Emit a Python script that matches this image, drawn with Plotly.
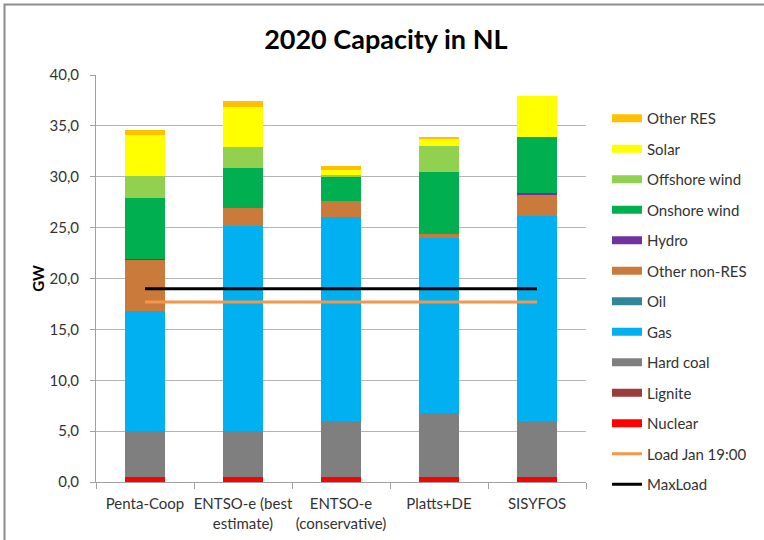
import plotly.graph_objects as go

# Scenario categories (x axis)
categories = [
    "Penta-Coop",
    "ENTSO-e (best<br>estimate)",
    "ENTSO-e<br>(conservative)",
    "Platts+DE",
    "SISYFOS",
]

# Installed capacity per technology, GW (stacked bottom to top)
nuclear = [0.5, 0.5, 0.5, 0.5, 0.5]
lignite = [0.0, 0.0, 0.0, 0.0, 0.0]
hard_coal = [4.5, 4.5, 5.45, 6.3, 5.5]
gas = [11.8, 20.15, 20.05, 17.15, 20.1]
oil = [0.0, 0.0, 0.0, 0.0, 0.0]
other_non_res = [5.1, 1.75, 1.65, 0.45, 2.2]
hydro = [0.05, 0.0, 0.0, 0.0, 0.1]
onshore_wind = [6.0, 4.0, 2.3, 6.05, 5.5]
offshore_wind = [2.15, 2.05, 0.2, 2.6, 0.0]
solar = [4.05, 3.95, 0.55, 0.75, 4.05]
other_res = [0.45, 0.55, 0.4, 0.15, 0.0]

# Reference load levels, GW
load_jan_1900 = [17.7, 17.7]
max_load = [19.0, 19.0]

FONT = "Lato, 'Open Sans', sans-serif"

series = [
    ("Nuclear", nuclear, "#FF0000"),
    ("Lignite", lignite, "#9B3B3B"),
    ("Hard coal", hard_coal, "#7F7F7F"),
    ("Gas", gas, "#00B0F0"),
    ("Oil", oil, "#31869B"),
    ("Other non-RES", other_non_res, "#CA7B3B"),
    ("Hydro", hydro, "#7030A0"),
    ("Onshore wind", onshore_wind, "#00B050"),
    ("Offshore wind", offshore_wind, "#92D050"),
    ("Solar", solar, "#FFFF00"),
    ("Other RES", other_res, "#FFC000"),
]

fig = go.Figure()

n = len(series)
for i, (name, vals, color) in enumerate(series):
    fig.add_trace(go.Bar(
        x=categories, y=vals, name=name, marker=dict(color=color, line=dict(width=0)),
        width=0.4, legendgroup=name, showlegend=False,
    ))
    # legend swatch drawn as a thick bar-coloured stroke
    fig.add_trace(go.Scatter(
        x=[None], y=[None], mode="lines", name=name, legendgroup=name,
        line=dict(color=color, width=8), legendrank=n - i, showlegend=True,
    ))

fig.add_trace(go.Scatter(
    x=[categories[0], categories[-1]], y=max_load, mode="lines", name="MaxLoad",
    line=dict(color="#000000", width=3), legendgroup="MaxLoad", legendrank=n + 2,
))
fig.add_trace(go.Scatter(
    x=[categories[0], categories[-1]], y=load_jan_1900, mode="lines", name="Load Jan 19:00",
    line=dict(color="#F79646", width=3), legendgroup="Load", legendrank=n + 1,
))

# outer chart frame
W, H = 764, 540
L, R, T, B = 96, 178, 75, 58
pw, ph = W - L - R, H - T - B
def px_x(p):
    return (p - L) / pw
def px_y(p):
    return (H - B - p) / ph

fig.add_shape(type="rect", xref="paper", yref="paper",
              x0=px_x(4.5), x1=px_x(790), y0=px_y(570), y1=px_y(4.5),
              line=dict(color="#8C8C8C", width=2), layer="below")

fig.update_layout(
    width=W, height=H,
    margin=dict(l=L, r=R, t=T, b=B, autoexpand=False),
    paper_bgcolor="white", plot_bgcolor="white",
    barmode="stack", bargap=0.6,
    separators=",.",
    font=dict(family=FONT, size=15, color="#333333"),
    title=dict(text="<b>2020 Capacity in NL</b>", x=0.505, xanchor="center",
               y=1 - 40 / H, yanchor="middle", yref="container",
               font=dict(family=FONT, size=27, color="#000000")),
    legend=dict(x=px_x(607), xanchor="left", y=px_y(102), yanchor="top",
                traceorder="grouped", tracegroupgap=8, maxheight=520,
                font=dict(family=FONT, size=15, color="#333333"),
                bgcolor="rgba(0,0,0,0)"),
    xaxis=dict(type="category", showline=True, linecolor="#A0A0A0", linewidth=1,
               ticks="outside", tickson="boundaries", ticklen=6, tickcolor="#A0A0A0",
               tickangle=0, automargin=False, ticklabelstandoff=8,
               showgrid=False, tickfont=dict(family=FONT, size=15, color="#333333")),
    yaxis=dict(range=[0, 40], dtick=5, tickformat=".1f", showline=True,
               linecolor="#A0A0A0", linewidth=1, ticks="outside", ticklen=5,
               tickcolor="#A0A0A0", showgrid=True, gridcolor="#B4B4B4", gridwidth=1,
               zeroline=False, automargin=False, ticklabelstandoff=8,
               tickfont=dict(family=FONT, size=15, color="#333333"),
               title=dict(text="<b>GW</b>", standoff=1,
                          font=dict(family=FONT, size=15, color="#000000"))),
)

fig.write_html("out.html")
